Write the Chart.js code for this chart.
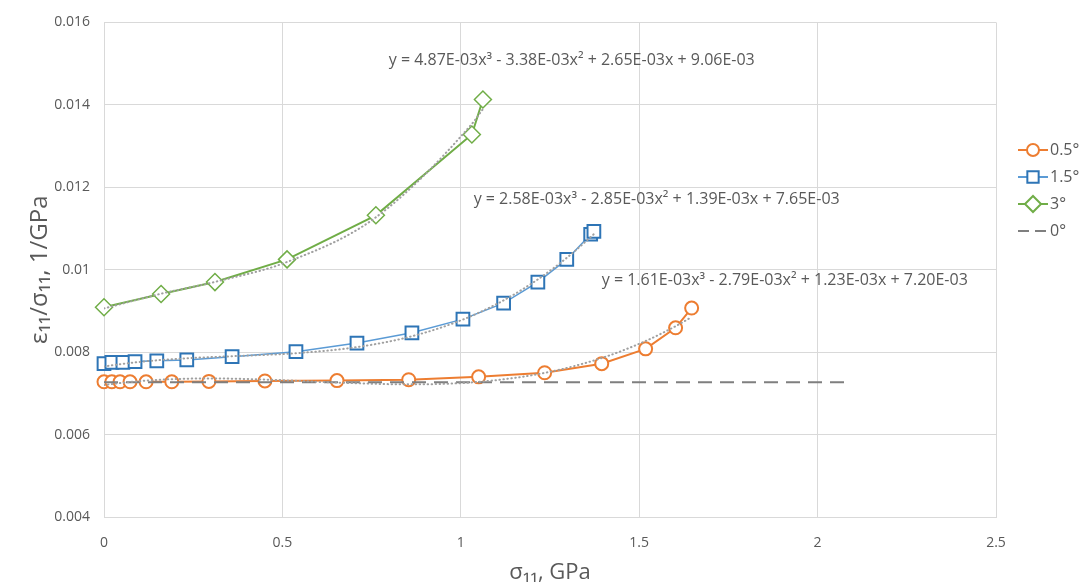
<!DOCTYPE html>
<html>
<head>
<meta charset="utf-8">
<script src="https://cdn.jsdelivr.net/npm/chart.js@4.4.1/dist/chart.umd.min.js"></script>
<style>
  html, body { margin: 0; padding: 0; background: #fff; }
  #wrap { width: 1084px; height: 586px; }
</style>
</head>
<body>
<div id="wrap"><canvas id="c" width="1084" height="586"></canvas></div>
<script>
// values (sigma_11 in GPa, eps/sigma in 1/GPa)
const x05 = [0, 0.022, 0.045, 0.073, 0.118, 0.19, 0.294, 0.451, 0.653, 0.854, 1.05, 1.235, 1.395, 1.518, 1.602, 1.647];
const y05 = [0.00728, 0.00728, 0.00728, 0.00728, 0.00728, 0.00728, 0.00729, 0.0073, 0.00731, 0.00733, 0.0074, 0.0075, 0.00772, 0.00808, 0.00859, 0.00907];

const x15 = [0, 0.022, 0.053, 0.087, 0.148, 0.232, 0.359, 0.538, 0.709, 0.863, 1.006, 1.12, 1.216, 1.297, 1.364, 1.373];
const y15 = [0.00772, 0.00775, 0.00775, 0.00777, 0.00779, 0.00781, 0.00789, 0.00801, 0.00822, 0.00847, 0.0088, 0.00919, 0.0097, 0.01025, 0.01086, 0.01093];

const x3 = [0, 0.16, 0.311, 0.513, 0.762, 1.031, 1.062];
const y3 = [0.00909, 0.00941, 0.0097, 0.01025, 0.01132, 0.01328, 0.01413];

const x0 = [0, 2.08];
const y0 = [0.00727, 0.00727];

// cubic trendline coefficients as printed on the chart (x^3, x^2, x, 1)
const fit05 = [1.61e-3, -2.79e-3, 1.23e-3, 7.20e-3];
const fit15 = [2.58e-3, -2.85e-3, 1.39e-3, 7.65e-3];
const fit3 = [4.87e-3, -3.38e-3, 2.65e-3, 9.06e-3];

const seriesNames = ['0.5°', '1.5°', '3°', '0°'];
const fitLabels = [
  'y = 1.61E-03x³ - 2.79E-03x² + 1.23E-03x + 7.20E-03',
  'y = 2.58E-03x³ - 2.85E-03x² + 1.39E-03x + 7.65E-03',
  'y = 4.87E-03x³ - 3.38E-03x² + 2.65E-03x + 9.06E-03'
];

const xTicks = [0, 0.5, 1, 1.5, 2, 2.5];
const yTicks = [0.004, 0.006, 0.008, 0.01, 0.012, 0.014, 0.016];

const FONT = "'Open Sans', sans-serif";
const TXT = '#595959';
const ORANGE = '#ED7D31';
const BLUE_LINE = '#5B9BD5';
const BLUE_MARK = '#2E75B6';
const GREEN = '#70AD47';
const GRID = '#d9d9d9';

function pts(xs, ys) {
  return xs.map((x, i) => ({ x: x, y: ys[i] }));
}
function trend(xs, c) {
  return xs.map(x => ({ x: x, y: ((c[0] * x + c[1]) * x + c[2]) * x + c[3] }));
}

function trendSet(xs, c) {
  return {
    data: trend(xs, c),
    showLine: true,
    borderColor: '#a0a0a0',
    borderWidth: 2,
    borderDash: [0.5, 3.5],
    borderCapStyle: 'round',
    pointRadius: 0,
    cubicInterpolationMode: 'monotone',
    order: 0
  };
}

// equation texts, placed in data units
const eqPlugin = {
  id: 'eq',
  afterDatasetsDraw(chart) {
    const { ctx, scales } = chart;
    const spots = [[1.395, 0.00975], [1.036, 0.0117], [0.798, 0.01508]];
    ctx.save();
    ctx.font = '16px ' + FONT;
    ctx.fillStyle = TXT;
    ctx.textBaseline = 'middle';
    ctx.textAlign = 'left';
    spots.forEach((s, i) => {
      ctx.fillText(fitLabels[i], scales.x.getPixelForValue(s[0]), scales.y.getPixelForValue(s[1]));
    });
    ctx.restore();
  }
};

// excel style legend: line segment + marker + name
const legendPlugin = {
  id: 'xlLegend',
  afterDraw(chart) {
    const ctx = chart.ctx;
    const items = [
      { color: ORANGE, mark: ORANGE, style: 'circle', r: 6, dash: [] },
      { color: BLUE_LINE, mark: BLUE_MARK, style: 'rect', r: 8, dash: [] },
      { color: GREEN, mark: GREEN, style: 'rectRot', r: 8, dash: [] },
      { color: '#7f7f7f', mark: null, style: null, r: 0, dash: [11, 6] }
    ];
    const x0 = 1018, x1 = 1048;
    ctx.save();
    items.forEach((it, i) => {
      const y = 150 + i * 27;
      ctx.beginPath();
      ctx.setLineDash(it.dash);
      ctx.strokeStyle = it.color;
      ctx.lineWidth = 2;
      ctx.moveTo(x0, y);
      ctx.lineTo(x1, y);
      ctx.stroke();
      ctx.setLineDash([]);
      if (it.style) {
        ctx.fillStyle = '#fff';
        ctx.strokeStyle = it.mark;
        ctx.lineWidth = 2;
        Chart.helpers.drawPoint(ctx, { pointStyle: it.style, radius: it.r, rotation: 0, borderWidth: 2 }, (x0 + x1) / 2, y);
      }
      ctx.font = '16px ' + FONT;
      ctx.fillStyle = TXT;
      ctx.textBaseline = 'middle';
      ctx.fillText(seriesNames[i], x1 + 2, y);
    });
    ctx.restore();
  }
};

new Chart(document.getElementById('c'), {
  type: 'scatter',
  data: {
    datasets: [
      trendSet(x05, fit05),
      trendSet(x15, fit15),
      trendSet(x3, fit3),
      {
        label: seriesNames[3],
        data: pts(x0, y0),
        showLine: true,
        borderColor: '#7f7f7f',
        borderWidth: 2,
        borderDash: [14, 8],
        pointRadius: 0,
        order: 1
      },
      {
        label: seriesNames[0],
        data: pts(x05, y05),
        showLine: true,
        clip: false,
        borderColor: ORANGE,
        borderWidth: 2,
        pointStyle: 'circle',
        pointRadius: 6.5,
        pointBorderWidth: 2,
        pointBorderColor: ORANGE,
        pointBackgroundColor: '#fff',
        order: 2
      },
      {
        label: seriesNames[1],
        data: pts(x15, y15),
        showLine: true,
        clip: false,
        borderColor: BLUE_LINE,
        borderWidth: 1.5,
        pointStyle: 'rect',
        pointRadius: 9,
        pointBorderWidth: 2,
        pointBorderColor: BLUE_MARK,
        pointBackgroundColor: '#fff',
        order: 2
      },
      {
        label: seriesNames[2],
        data: pts(x3, y3),
        showLine: true,
        clip: false,
        borderColor: GREEN,
        borderWidth: 2,
        pointStyle: 'rectRot',
        pointRadius: 8.5,
        pointBorderWidth: 1.5,
        pointBorderColor: GREEN,
        pointBackgroundColor: '#fff',
        order: 2
      }
    ]
  },
  options: {
    responsive: false,
    animation: false,
    layout: { padding: { top: 20, right: 88, left: 0, bottom: 0 } },
    plugins: {
      legend: { display: false },
      tooltip: { enabled: false }
    },
    scales: {
      x: {
        type: 'linear',
        min: 0,
        max: 2.5,
        afterBuildTicks: s => { s.ticks = xTicks.map(v => ({ value: v })); },
        afterFit: s => { s.height = 69; },
        grid: { color: GRID, drawTicks: false },
        border: { color: GRID },
        ticks: {
          color: TXT,
          font: { family: FONT, size: 14 },
          padding: 18,
          maxRotation: 0,
          callback: v => String(v)
        },
        title: {
          display: true,
          text: 'σ₁₁, GPa',
          color: TXT,
          font: { family: FONT, size: 22 },
          padding: { top: 0, bottom: 0 }
        }
      },
      y: {
        type: 'linear',
        min: 0.004,
        max: 0.016,
        afterBuildTicks: s => { s.ticks = yTicks.map(v => ({ value: v })); },
        afterFit: s => { s.width = 104; },
        grid: { color: GRID, drawTicks: false },
        border: { display: false },
        ticks: {
          color: TXT,
          font: { family: FONT, size: 14 },
          padding: 14,
          callback: v => String(+v.toFixed(3))
        },
        title: {
          display: true,
          text: 'ε₁₁/σ₁₁, 1/GPa',
          color: TXT,
          font: { family: FONT, size: 24 },
          padding: { top: 26, bottom: 0 }
        }
      }
    }
  },
  plugins: [eqPlugin, legendPlugin]
});
</script>
</body>
</html>
